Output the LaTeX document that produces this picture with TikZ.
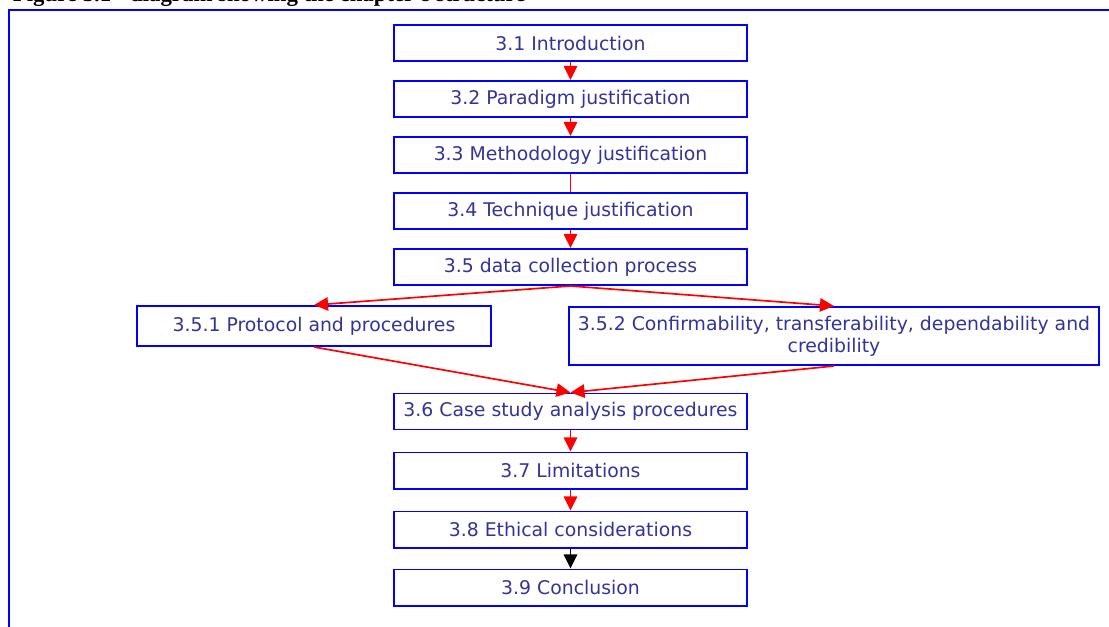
\documentclass[tikz,border=0pt]{standalone}
\usepackage{fontspec}
\setmainfont{Liberation Serif}
\newfontfamily\boxfont{DejaVu Sans}
\usetikzlibrary{arrows.meta}
\usepackage{xcolor}
\definecolor{boxblue}{RGB}{0,0,255}
\definecolor{textblue}{RGB}{51,51,153}

\begin{document}
\begin{tikzpicture}[x=0.025cm,y=-0.025cm]
    
    \tikzset{box/.style = {shape=rectangle,draw=boxblue,line width=1.4pt,text=textblue,inner sep=0pt,
        font=\boxfont\fontsize{13.4}{15.5}\selectfont,minimum width=8.825cm,minimum height=0.9cm}}
    \tikzset{edge/.style = {draw=red,line width=1.2pt,-{Triangle[width=9.5pt,length=10pt]}}}
    \useasboundingbox (0,0) rectangle (1109,626);
    \node[anchor=base west,font=\bfseries\fontsize{16.2}{18}\selectfont] (title) at (8,1.5) {Figure 3.1 - diagram showing the chapter's structure};
    \draw[boxblue,line width=1.4pt] (9,10) rectangle (1130,650);
    \node[box] (A) at (570.5,43)  {3.1 Introduction};
    \node[box] (B) at (570.5,99)  {3.2 Paradigm justification};
    \node[box] (C) at (570.5,155) {3.3 Methodology justification};
    \node[box] (D) at (570.5,211) {3.4 Technique justification};
    \node[box] (E) at (570.5,267) {3.5 data collection process};
    \node[box,minimum width=8.85cm,minimum height=1cm] (F) at (314,326) {3.5.1 Protocol and procedures};
    \node[box,minimum width=13.25cm,minimum height=1.45cm,align=center,anchor=north] (G) at (834,306)
        {3.5.2 Confirmability, transferability, dependability and\\credibility};
    \node[box] (H) at (570.5,411.5) {3.6 Case study analysis procedures};
    \node[box] (I) at (570.5,470.5) {3.7 Limitations};
    \node[box] (J) at (570.5,529.5) {3.8 Ethical considerations};
    \node[box] (K) at (570.5,587.5) {3.9 Conclusion};
    %edges
    \draw[edge] (A) to (B);
    \draw[edge] (B) to (C);
    \draw[edge,-] (C) to (D);
    \draw[edge] (D) to (E);
    \draw[edge] (E.south) to (F.north);
    \draw[edge] (E.south) to (G.north);
    \draw[edge] (F.south) to (H.north);
    \draw[edge] (G.south) to (H.north);
    \draw[edge] (H) to (I);
    \draw[edge] (I) to (J);
    \draw[edge,draw=black] (J) to (K);
    \end{tikzpicture}
\end{document}
